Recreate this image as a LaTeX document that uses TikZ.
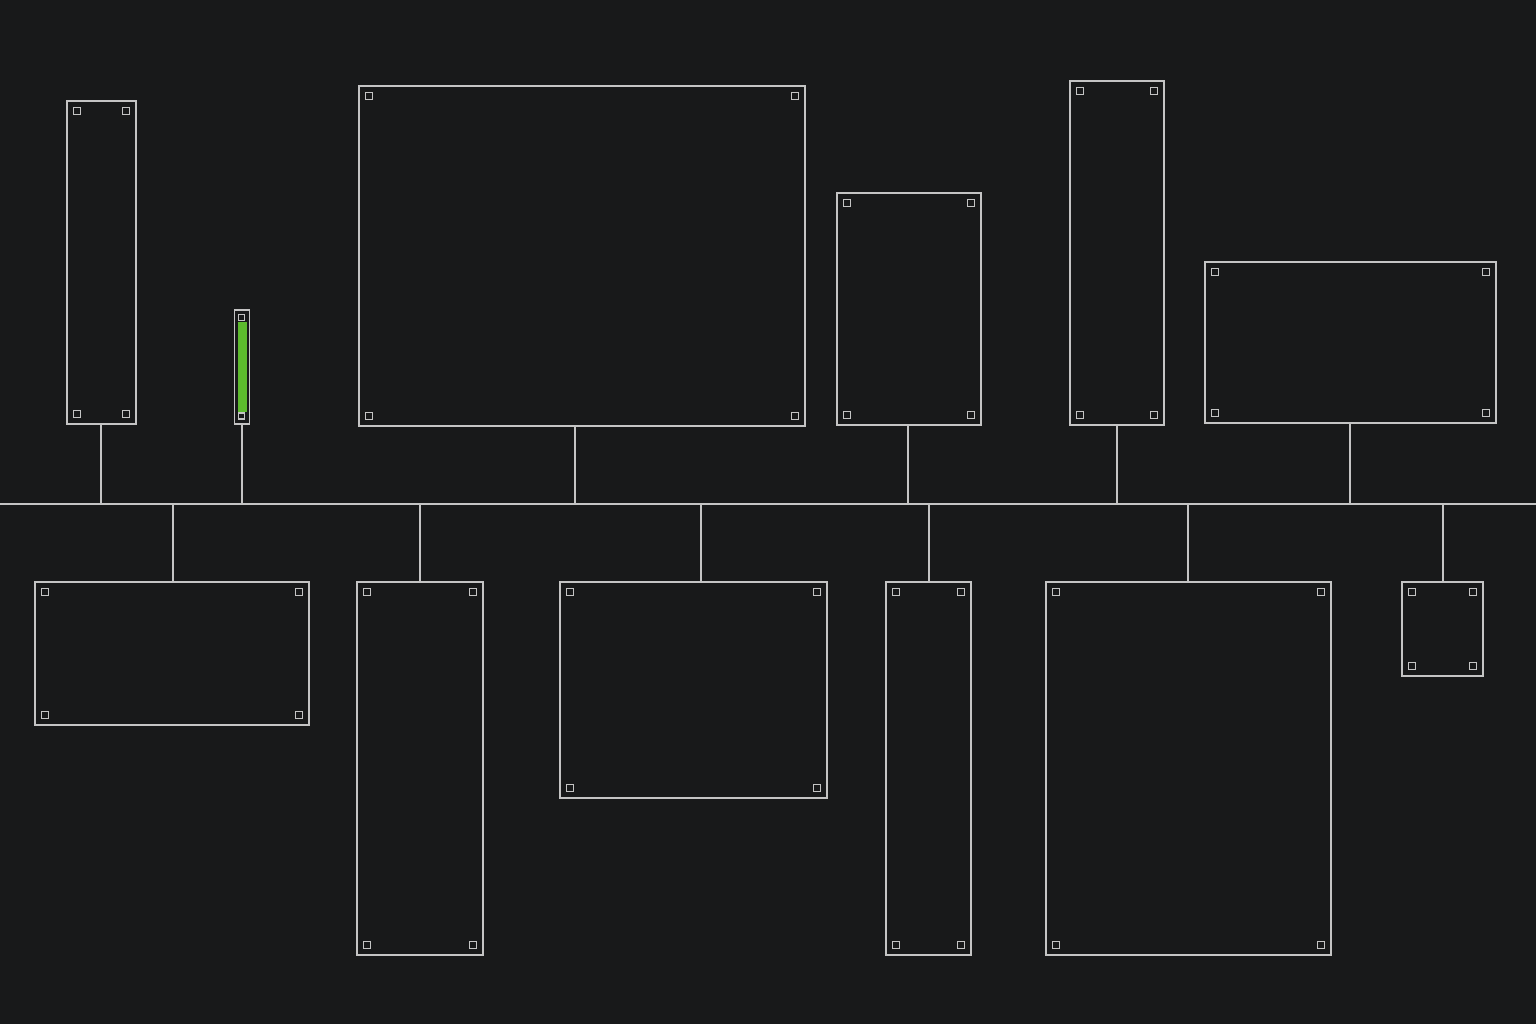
\documentclass[tikz,border=0pt]{standalone}
\begin{document}
\begin{tikzpicture}[x=1pt,y=-1pt,
  wire/.style={draw=linegray,line width=1.4pt},
  panel/.style={draw=linegray,line width=1.6pt},
  bolt/.style={draw=linegray,line width=1.1pt}]
\definecolor{bg}{HTML}{18191A}
\definecolor{linegray}{HTML}{C4C4C4}
\definecolor{ledgreen}{HTML}{5DBB2E}
\fill[bg] (0,0) rectangle (1536,1024);
\useasboundingbox (0,0) rectangle (1536,1024);
\newcommand{\panelbox}[5]{% name, x1,y1,x2,y2
  \draw[panel] (#2,#3) rectangle (#4,#5);
  \coordinate (#1-top) at ({(#2+#4)/2},#3);
  \coordinate (#1-bot) at ({(#2+#4)/2},#5);
  \draw[bolt] ({#2+10-3.5},{#3+10-3.5}) rectangle ++(7,7);
  \draw[bolt] ({#4-10-3.5},{#3+10-3.5}) rectangle ++(7,7);
  \draw[bolt] ({#2+10-3.5},{#5-10-3.5}) rectangle ++(7,7);
  \draw[bolt] ({#4-10-3.5},{#5-10-3.5}) rectangle ++(7,7);
}
% bus
\coordinate (busL) at (0,504);
\coordinate (busR) at (1536,504);
\draw[wire] (busL) -- (busR);
% top row
\panelbox{t1}{67}{101}{136}{424}
\panelbox{t3}{359}{86}{805}{426}
\panelbox{t4}{837}{193}{981}{425}
\panelbox{t5}{1070}{81}{1164}{425}
\panelbox{t6}{1205}{262}{1496}{423}
% green indicator
\draw[panel] (234.5,310) rectangle (249.5,424);
\fill[ledgreen] (237.5,322) rectangle (246.5,412);
\draw[bolt] (238.5,314.5) rectangle ++(6,6);
\draw[bolt] (238.5,413) rectangle ++(6,6);
\coordinate (t2-bot) at (242,424);
% bottom row
\panelbox{b1}{35}{582}{309}{725}
\panelbox{b2}{357}{582}{483}{955}
\panelbox{b3}{560}{582}{827}{798}
\panelbox{b4}{886}{582}{971}{955}
\panelbox{b5}{1046}{582}{1331}{955}
\panelbox{b6}{1402}{582}{1483}{676}
% stems top
\foreach \n/\x in {t1/101,t2/242,t3/575,t4/908,t5/1117,t6/1350}{
  \coordinate (s) at (\x,504);
  \draw[wire] (s |- \n-bot) -- (s);
}
\foreach \n/\x in {b1/173,b2/420,b3/701,b4/929,b5/1188,b6/1443}{
  \coordinate (s) at (\x,504);
  \draw[wire] (s) -- (s |- \n-top);
}
\end{tikzpicture}
\end{document}
